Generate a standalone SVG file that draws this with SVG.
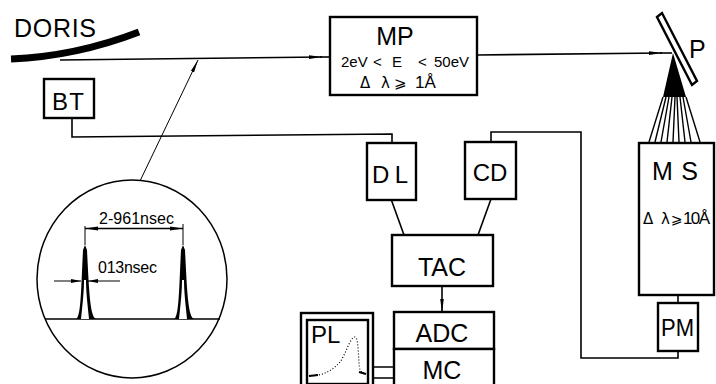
<svg xmlns="http://www.w3.org/2000/svg" width="716" height="384" viewBox="0 0 716 384">
<style>
text{font-family:"Liberation Sans","DejaVu Sans",sans-serif;fill:#000}
.b{fill:#fff;stroke:#000;stroke-width:2.4}
.l{fill:none;stroke:#000;stroke-width:1.6}
.t{stroke:#000;stroke-width:1;fill:none}
.f{stroke:#000;stroke-width:1.4;fill:none}
.big{font-size:25px}
.mid{font-size:24px}
.s{font-size:15px}
.g{font-family:"DejaVu Sans",sans-serif}
.m{text-anchor:middle}
</style>
<defs>
<marker id="a" markerWidth="14" markerHeight="8" refX="13" refY="4" orient="auto" markerUnits="userSpaceOnUse"><path d="M0 2.200L13 4L0 5.800Z" fill="#000"/></marker>
</defs>
<g id="connectors">
<path class="l" d="M60 60L322 57" marker-end="url(#a)"/>
<path class="l" d="M320 57H330"/>
<path class="l" d="M477 55L662 53" marker-end="url(#a)"/>
<path class="l" d="M660 53H672"/>
<path class="t" d="M140 181L198 60" marker-end="url(#a)"/>
<path class="l" d="M72 118V137L392 134V143"/>
<path class="l" d="M491 143V132H581V358H678V351"/>
<path class="l" d="M391 199L404 235"/>
<path class="l" d="M491 199L478 235"/>
<path class="l" d="M442 286V312" marker-end="url(#a)"/>
<path class="l" d="M373 367H394M373 378H394"/>
<path class="l" d="M678 295V303"/>
</g>
<g id="doris">
<path d="M11 59C60 57 100 47 139 32" fill="none" stroke="#000" stroke-width="7"/>
<text class="big" x="14" y="37" textLength="82" lengthAdjust="spacing">DORIS</text>
</g>
<g id="BT"><rect class="b" x="44" y="79" width="50" height="39"/><text class="mid" x="52" y="110" textLength="32">BT</text></g>
<g id="MP">
<rect class="b" x="330" y="17" width="147" height="78"/>
<text class="big m" x="395" y="45">MP</text>
<text class="s" x="341" y="67">2eV</text><text class="s" x="373" y="67">&lt;</text><text class="s" x="392" y="67">E</text><text class="s" x="418" y="67">&lt;</text><text class="s" x="434" y="67">50eV</text>
<text class="s g" x="360" y="88" textLength="30">Δλ</text>
<text class="s g" x="394" y="88">⩾</text>
<text x="415" y="88" style="font-size:17px">1Å</text>
</g>
<g id="P">
<path d="M673 53L663 97H686Z" fill="#000"/>
<path class="f" d="M663 97L649 142M666 97L655 142M669 97L661 142M672 97L667 142M675 97L673 142M677 97L679 142M680 97L685 142M683 97L691 142M686 97L700 142"/>
<path class="b" stroke-width="2" d="M657 17L662 13L697 81L692 85Z"/>
<text class="big" x="689" y="58">P</text>
</g>
<g id="MS">
<rect class="b" x="639" y="143" width="75" height="152"/>
<text class="big" x="652" y="180" textLength="46">MS</text>
<text class="g" x="643" y="224" textLength="27" style="font-size:15px">Δλ</text>
<text class="g" x="671" y="224" style="font-size:14px">⩾</text>
<text x="683" y="224" style="font-size:17px" textLength="27">10Å</text>
</g>
<g id="PM"><rect class="b" x="658" y="303" width="40" height="48"/><text class="mid m" x="661" y="336" textLength="33" lengthAdjust="spacingAndGlyphs" style="text-anchor:start">PM</text></g>
<g id="DL"><rect class="b" x="367" y="143" width="49" height="57"/><text class="mid" x="372" y="183" textLength="36">DL</text></g>
<g id="CD"><rect class="b" x="465" y="142" width="51" height="57"/><text class="mid m" x="490" y="181">CD</text></g>
<g id="TAC"><rect class="b" x="392" y="235" width="101" height="51"/><text class="big m" x="442" y="276">TAC</text></g>
<g id="ADC"><rect class="b" x="394" y="312" width="100" height="37"/><text class="big m" x="442" y="342">ADC</text></g>
<g id="MC"><rect class="b" x="394" y="349" width="100" height="40"/><text class="big m" x="442" y="379">MC</text></g>
<g id="PL">
<rect class="b" x="301" y="313" width="72" height="75"/>
<rect class="b" stroke-width="1.6" x="307" y="320" width="61" height="64"/>
<text x="311" y="343" style="font-size:24px">PL</text>
<path d="M310 376C322 375 330 373 340 362C346 354 350 337 355 337C359 337 358 362 360 370C362 373 364 374 366 374" fill="none" stroke="#000" stroke-width="1.2" stroke-dasharray="1 2"/>
<path d="M309 376L318 375M359 372L366 374" stroke="#000" stroke-width="2" fill="none"/>
</g>
<g id="pulse">
<ellipse cx="132" cy="279" rx="95" ry="99" fill="none" stroke="#000" stroke-width="1.500"/>
<path class="l" d="M45 319H220"/>
<path d="M76 319C81 317 81 290 83 250L85 245L87 250C89 290 90 317 96 319Z" fill="#000"/>
<path d="M174 319C179 317 179 290 181 250L183 245L185 250C187 290 188 317 194 319Z" fill="#000"/>
<path d="M81 319C83 300 84 290 84 280H86C86 290 87 300 89 319ZM179 319C181 300 182 290 182 280H184C184 290 185 300 187 319Z" fill="#fff"/>
<path class="t" d="M85 226V245M183 224V245"/>
<path class="l" d="M85 228.500H183"/>
<path d="M85 228.500L98 226.500V230.500ZM183 228.500L170 226.500V230.500Z" fill="#000"/>
<path class="t" d="M54 281H81M88 281H120"/>
<path d="M81 281L71 279V283ZM88 281L98 279V283Z" fill="#000"/>
<text x="99" y="224" style="font-size:16px" textLength="75">2-961nsec</text>
<text x="98" y="273" style="font-size:16px" textLength="59">013nsec</text>
</g>
</svg>
